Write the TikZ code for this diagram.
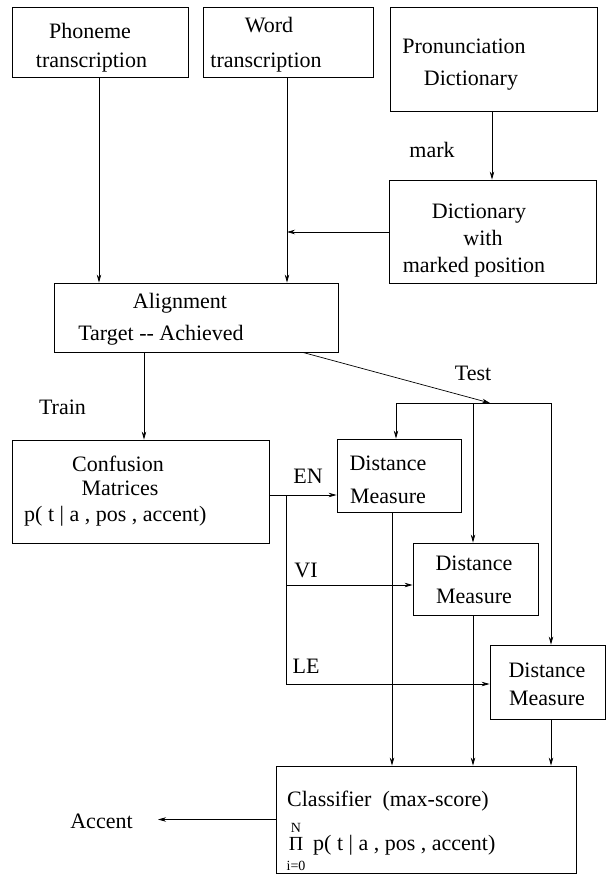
\documentclass[tikz,border=0pt]{standalone}
\usepackage{fontspec}
\setmainfont{Liberation Serif}
\usetikzlibrary{arrows.meta}
\begin{document}
\begin{tikzpicture}[x=1pt,y=-1pt,
  box/.style={draw, line width=0.9pt, inner sep=0pt, anchor=center},
  txt/.style={inner sep=0pt, anchor=base, font=\fontsize{22}{26}\selectfont},
  txtl/.style={txt, anchor=base west},
  small/.style={inner sep=0pt, anchor=base, font=\fontsize{14}{16}\selectfont},
  conn/.style={line width=0.7pt},
  arr/.style={conn, -{Stealth[length=8pt,width=4.5pt]}}]
\useasboundingbox (0,0) rectangle (606,875);
% boxes
\node[box, minimum width=176pt, minimum height=70pt] (ph) at (100,42) {};
\node[box, minimum width=170pt, minimum height=70pt] (wd) at (288,42) {};
\node[box, minimum width=207pt, minimum height=104pt] (pr) at (493.5,59) {};
\node[box, minimum width=207pt, minimum height=103pt] (dc) at (492.5,231.5) {};
\node[box, minimum width=284pt, minimum height=69pt] (al) at (196,317.5) {};
\node[box, minimum width=257pt, minimum height=103pt] (cf) at (140.5,491.5) {};
\node[box, minimum width=124pt, minimum height=73pt] (d1) at (399,475.5) {};
\node[box, minimum width=125pt, minimum height=72pt] (d2) at (475.5,579) {};
\node[box, minimum width=115pt, minimum height=74pt] (d3) at (547.5,682) {};
\node[box, minimum width=300pt, minimum height=107pt] (cl) at (426,819.5) {};
% texts in boxes
\node[txt] (ph1) at (90,39) {Phoneme};
\node[txt] (ph2) at (91.5,67) {transcription};
\node[txt] (wd1) at (269,33) {Word};
\node[txt] (wd2) at (266,67) {transcription};
\node[txt] (pr1) at (464,53) {Pronunciation};
\node[txt] (pr2) at (471,85) {Dictionary};
\node[txt] (dc1) at (479,218) {Dictionary};
\node[txt] (dc2) at (483,245) {with};
\node[txt] (dc3) at (474,272) {marked position};
\node[txt] (al1) at (180,308) {Alignment};
\node[txt] (al2) at (161,340) {Target -{}- Achieved};
\node[txt] (cf1) at (118,471) {Confusion};
\node[txt] (cf2) at (120,495) {Matrices};
\node[txtl] (cf3) at (24,521) {p( t | a , pos , accent)};
\node[txt] (d1a) at (388,470) {Distance};
\node[txt] (d1b) at (388,503) {Measure};
\node[txt] (d2a) at (474,570) {Distance};
\node[txt] (d2b) at (474,603) {Measure};
\node[txt] (d3a) at (547,677) {Distance};
\node[txt] (d3b) at (547,705) {Measure};
\node[txtl] (cl1) at (287,806) {Classifier\enspace(max-score)};
\node[small] (cl2) at (296,832) {N};
\node[txt, font=\fontsize{20}{24}\selectfont] (cl3) at (296,850) {Π};
\node[small] (cl4) at (296,870) {i=0};
\node[txtl] (cl5) at (313,850) {p( t | a , pos , accent)};
% labels
\node[txt] (mark) at (432,157) {mark};
\node[txt] (train) at (62.5,414) {Train};
\node[txt] (test) at (473,380) {Test};
\node[txt] (en) at (308,483) {EN};
\node[txt] (vi) at (306,577) {VI};
\node[txt] (le) at (306,673) {LE};
\node[txt] (acc) at (101.5,828) {Accent};
% junction coordinates
\coordinate (j1) at (287,232);
\coordinate (tj) at (490,403);
\coordinate (tl) at (396,403);
\coordinate (tm) at (473,403);
\coordinate (tr) at (551,403);
\coordinate (bj) at (286,495);
\coordinate (bv) at (286,585);
\coordinate (bl) at (286,684);
% connectors
\draw[arr] (99,0 |- ph.south) -- (99,0 |- al.north);
\draw[arr] (287,0 |- wd.south) -- (287,0 |- al.north);
\draw[arr] (492,0 |- pr.south) -- (492,0 |- dc.north);
\draw[arr] (dc.west |- j1) -- (j1);
\draw[arr] (144,0 |- al.south) -- (144,0 |- cf.north);
\draw[arr] (303,0 |- al.south) -- (tj);
\draw[conn] (tl) -- (tr);
\draw[arr] (tl) -- (tl |- d1.north);
\draw[arr] (tm) -- (tm |- d2.north);
\draw[arr] (tr) -- (tr |- d3.north);
\draw[arr] (cf.east |- bj) -- (d1.west |- bj);
\draw[conn] (bj) -- (bl);
\draw[arr] (bv) -- (bv -| d2.west);
\draw[arr] (bl) -- (bl -| d3.west);
\draw[arr] (392,0 |- d1.south) -- (392,0 |- cl.north);
\draw[arr] (473,0 |- d2.south) -- (473,0 |- cl.north);
\draw[arr] (551,0 |- d3.south) -- (551,0 |- cl.north);
\draw[arr] (cl.west) -- (158,0 |- cl.west);
\end{tikzpicture}
\end{document}
